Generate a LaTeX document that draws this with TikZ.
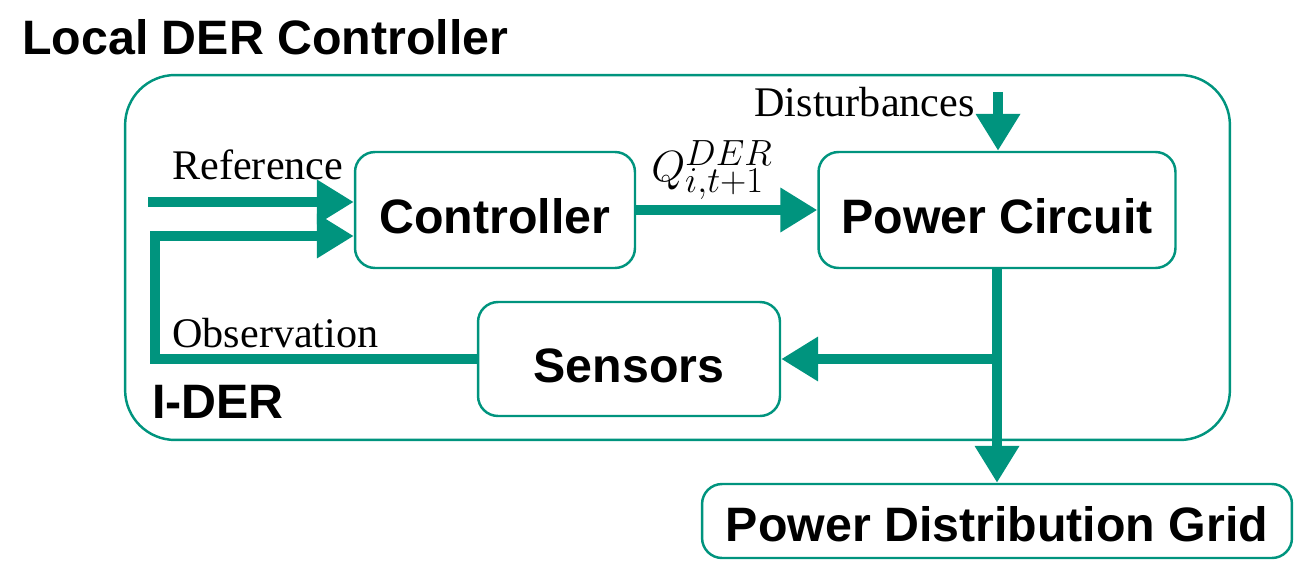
\documentclass[tikz,border=0pt]{standalone}
\usepackage{fontspec}
\setmainfont{Liberation Serif}
\setsansfont{Liberation Sans}
\usetikzlibrary{arrows.meta}
\definecolor{derteal}{RGB}{0,148,126}
\tikzset{
    box/.style={draw=derteal, line width=1.4pt, rounded corners=0.4cm, fill=white,
        font=\sffamily\bfseries\fontsize{27.5}{30}\selectfont, align=center,
        text height=27pt, text depth=0pt},
    flow/.style={derteal, line width=6.2pt, line join=miter,
        -{Triangle[length=21pt, width=24pt]}},
    sig/.style={font=\fontsize{24}{26}\selectfont, inner sep=0pt},
    head/.style={font=\sffamily\bfseries\fontsize{27.5}{30}\selectfont, inner sep=0pt}
}
\begin{document}
\begin{tikzpicture}[x=0.02cm, y=-0.02cm]
    \useasboundingbox (0,0) rectangle (1307,584);

    % Ramka I-DER i tytul
    \node[draw=derteal, line width=1.4pt, rounded corners=1cm, minimum width=22.1cm,
        minimum height=7.3cm, inner sep=0pt] (der) at (677.5,257.5) {};
    \node[head, anchor=base west] (title) at (22,55) {Local DER Controller};
    \node[head, anchor=base west] (iderlbl) at (152,418) {I-DER};

    % Bloki
    \node[box, minimum width=5.6cm, minimum height=2.32cm] (ctrl) at (495,210) {Controller};
    \node[box, minimum width=7.14cm, minimum height=2.32cm] (pcirc) at (997,210) {Power Circuit};
    \node[box, minimum width=6.04cm, minimum height=2.28cm] (sens) at (629,359) {Sensors};
    \node[box, minimum width=11.8cm, minimum height=1.48cm, text height=23pt,
        inner sep=2pt] (grid) at (997,521) {Power Distribution Grid};

    % Punkty pomocnicze
    \coordinate (refin) at (148,202);
    \coordinate (fbk) at (155,236);
    \coordinate (dist) at (998,92);
    \coordinate (tap) at (pcirc.south |- sens.east);

    % Strzalki sygnalow
    \draw[flow] (refin) -- (refin -| ctrl.west);
    \draw[flow] (sens.west) -| (fbk) -- (fbk -| ctrl.west);
    \draw[flow] (ctrl.east) -- (pcirc.west);
    \draw[flow] (dist) -- (dist |- pcirc.north);
    \draw[flow] (pcirc.south) -- (grid.north);
    \draw[flow] (tap) -- (sens.east);

    % Opisy
    \node[sig, anchor=base west] (reflbl) at (172,180) {Reference};
    \node[sig, anchor=base west] (obslbl) at (172,347) {Observation};
    \node[sig, anchor=base east] (distlbl) at (975,117) {Disturbances};
    \node[sig, font=\fontsize{29}{31}\selectfont] (qlbl) at (712,170) {$Q_{i,t+1}^{DER}$};
\end{tikzpicture}
\end{document}
